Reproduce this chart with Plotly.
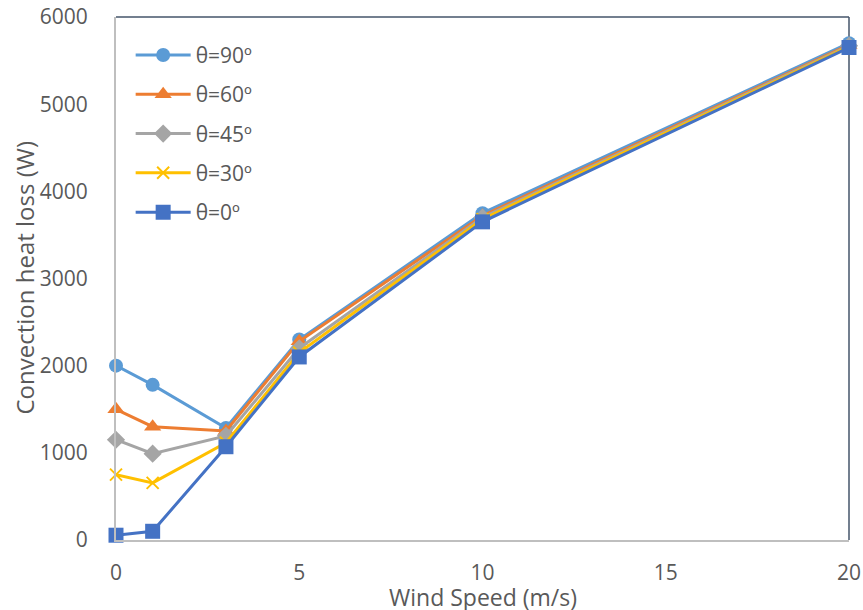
import plotly.graph_objects as go

wind_speed = [0, 1, 3, 5, 10, 20]
theta_90 = [2000, 1780, 1285, 2300, 3750, 5700]
theta_60 = [1500, 1300, 1250, 2280, 3720, 5680]
theta_45 = [1150, 990, 1195, 2200, 3700, 5670]
theta_30 = [750, 655, 1115, 2150, 3680, 5660]
theta_0 = [55, 100, 1070, 2100, 3650, 5650]
x_ticks = [0, 5, 10, 15, 20]
y_ticks = [0, 1000, 2000, 3000, 4000, 5000, 6000]

series = [
    ("θ=90º", theta_90, "#5B9BD5", "circle", 14),
    ("θ=60º", theta_60, "#ED7D31", "triangle-up", 15),
    ("θ=45º", theta_45, "#A5A5A5", "diamond", 14),
    ("θ=30º", theta_30, "#FFC000", "x-thin-open", 12),
    ("θ=0º", theta_0, "#4472C4", "square", 15),
]

fig = go.Figure()
for name, vals, color, sym, size in series:
    marker = dict(symbol=sym, size=size, color=color)
    if sym == "x-thin-open":
        marker["line"] = dict(color=color, width=2)
    fig.add_trace(go.Scatter(
        x=wind_speed, y=vals, name=name, mode="lines+markers",
        legendgroup=name,
        line=dict(color=color, width=3), marker=marker, cliponaxis=False,
    ))

font_family = "Open Sans, Liberation Sans, sans-serif"
fig.update_layout(
    width=863, height=610,
    margin=dict(l=116, r=14, t=17, b=70, autoexpand=False),
    paper_bgcolor="white", plot_bgcolor="white",
    font=dict(family=font_family, color="#595959", size=21),
    showlegend=True,
    legend=dict(x=0.02, y=0.966, xanchor="left", yanchor="top",
                bgcolor="rgba(255,255,255,0)", font=dict(size=21),
                tracegroupgap=9, itemwidth=55),
    xaxis=dict(range=[0, 20], tickvals=x_ticks, showgrid=False, automargin=False,
               zeroline=False, showline=True, linecolor="#BFBFBF", linewidth=2,
               ticks="", ticklabelstandoff=13, ticklabeloverflow="allow"),
    yaxis=dict(range=[0, 6000], tickvals=y_ticks, showgrid=False, automargin=False,
               zeroline=False, showline=True, linecolor="#BFBFBF", linewidth=2,
               ticks="", ticklabelstandoff=22, ticklabeloverflow="allow"),
    shapes=[
        dict(type="line", xref="paper", yref="paper", x0=0, x1=1, y0=1, y1=1,
             line=dict(color="#44546A", width=1.5), layer="below"),
        dict(type="line", xref="paper", yref="paper", x0=1, x1=1, y0=0, y1=1,
             line=dict(color="#44546A", width=1.5), layer="below"),
    ],
    annotations=[
        dict(text="Wind Speed (m/s)", xref="paper", yref="paper", x=0.5, y=0,
             xanchor="center", yanchor="middle", yshift=-57, showarrow=False,
             font=dict(size=23, color="#595959")),
        dict(text="Convection heat loss (W)", xref="paper", yref="paper", x=0, y=0.5,
             xanchor="center", yanchor="middle", xshift=-92, textangle=-90,
             showarrow=False, font=dict(size=24, color="#595959")),
    ],
)

fig.write_html("out.html",
               config={"displayModeBar": False},
               post_script="document.body.style.margin='0';document.body.style.overflow='hidden';")
